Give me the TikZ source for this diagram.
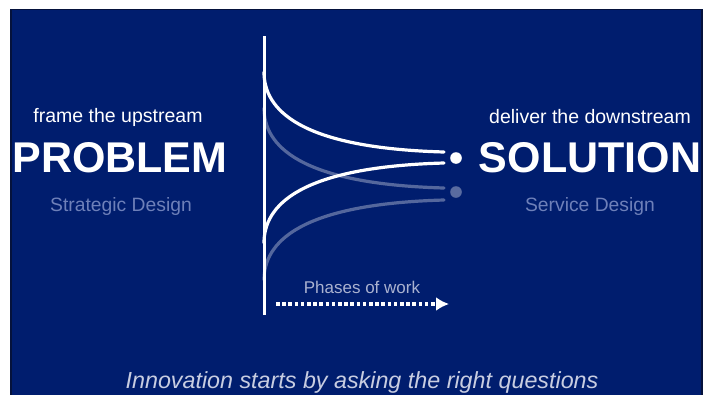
\documentclass[tikz,border=0pt]{standalone}
\usepackage{fontspec}
\setmainfont{Liberation Sans}
\usetikzlibrary{arrows.meta,positioning}
\definecolor{slideblue}{RGB}{0,29,110}
\definecolor{slideedge}{RGB}{5,18,60}
\definecolor{softtext}{RGB}{110,128,185}
\definecolor{lighttext}{RGB}{200,205,225}
\tikzset{
	small/.style={text=white,font=\fontsize{19.5}{21}\selectfont},
	big/.style={text=white,font=\fontsize{43}{46}\selectfont\bfseries},
	faint/.style={text=softtext,font=\fontsize{19.3}{21}\selectfont},
	funnel/.style={white,line width=3.2pt,line cap=round},
	ghost/.style={white,opacity=0.33,line width=3.2pt,line cap=round}
}

\begin{document}
\begin{tikzpicture}[x=1pt,y=-1pt]
		\useasboundingbox (0,0) rectangle (715,394);
		\fill[white] (0,0) rectangle (715,394);
		\draw[slideedge,fill=slideblue,line width=1.2pt] (11,9.5) rectangle (702,400);
		\node[small] (up) at (118,117) {frame the upstream};
		\node[big] (problem) at (120,158) {PROBLEM};
		\node[faint] (strategic) at (121,207) {Strategic Design};
		\node[small] (down) at (590,117) {deliver the downstream};
		\node[big] (solution) at (590,158) {SOLUTION};
		\node[faint] (service) at (590,207) {Service Design};
		\fill[white] (456,158) circle (5.8) node (dot) {};
		\fill[white,opacity=0.35] (456,192) circle (5.8) node (ghostdot) {};
		\draw[ghost] (264,108) .. controls (264,146) and (300,184) .. (444,188);
		\draw[ghost] (264,280) .. controls (264,242) and (300,204) .. (444,200);
		\draw[white,line width=3pt] (264,36) -- (264,315);
		\draw[funnel] (264,72) .. controls (264,110) and (300,148) .. (444,152);
		\draw[funnel] (264,243) .. controls (264,205) and (300,167) .. (444,163);
		\node[faint,text=lighttext!85!slideblue,font=\fontsize{17}{19}\selectfont] (phases) at (362,287) {Phases of work};
		\coordinate (from) at (276,304);
		\coordinate (to) at (449,304);
		\draw[white,line width=3.6pt,dash pattern=on 3.6pt off 2.6pt,-{Latex[length=13pt,width=14pt]}] (from) -- (to);
		\node[text=lighttext,font=\fontsize{23.3}{25}\selectfont\itshape] (motto) at (362,382) {Innovation starts by asking the right questions};
		\end{tikzpicture}
\end{document}
